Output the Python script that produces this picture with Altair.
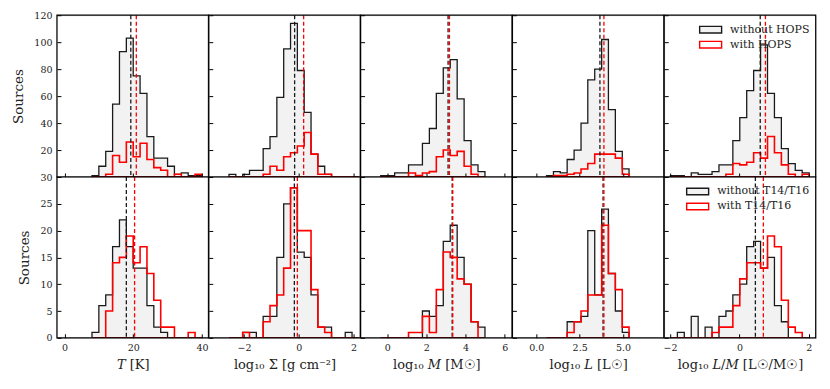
import altair as alt
import pandas as pd

# ---------------- data ----------------
T_edges = [8, 10, 12, 14, 16, 18, 20, 22, 24, 26, 28, 30, 32, 34, 36, 38, 40]
T_top_without = [1, 8, 19, 54, 93, 103, 75, 62, 30, 14, 14, 8, 2, 3, 1, 1]
T_top_with = [0, 0, 2, 16, 11, 26, 15, 25, 13, 7, 5, 0, 2, 0, 0, 2]
T_bot_without = [1, 6, 8, 17, 22, 17, 13, 13, 6, 2, 1, 0, 0, 0, 0, 0]
T_bot_with = [0, 0, 5, 14, 15, 19, 14, 17, 12, 7, 2, 2, 0, 0, 1, 0]
T_medians = [[19.3, 20.9], [18.0, 20.4]]

S_edges = [-2.55, -2.30, -2.05, -1.80, -1.55, -1.30, -1.05, -0.80, -0.55, -0.30,
           -0.05, 0.20, 0.45, 0.70, 0.95, 1.20, 1.45, 1.70, 1.95, 2.20]
S_top_without = [2, 0, 2, 5, 5, 21, 30, 59, 95, 114, 79, 48, 17, 8, 2, 0, 0, 0, 0]
S_top_with = [0, 0, 0, 0, 0, 2, 8, 5, 15, 18, 23, 33, 17, 2, 2, 0, 0, 0, 0]
S_bot_without = [0, 0, 1, 1, 0, 4, 4, 15, 25, 28, 16, 15, 8, 2, 2, 0, 0, 1, 0]
S_bot_with = [0, 0, 1, 0, 0, 3, 6, 8, 13, 28, 20, 20, 9, 2, 1, 0, 0, 0, 0]
S_medians = [[-0.15, 0.18], [-0.16, -0.05]]

M_edges = [-0.33, 0.025, 0.38, 0.735, 1.09, 1.445, 1.80, 2.155, 2.51, 2.865,
           3.22, 3.575, 3.93, 4.285, 4.64, 4.995]
M_top_without = [1, 1, 3, 3, 9, 9, 25, 36, 62, 81, 87, 58, 27, 9, 4]
M_top_with = [0, 0, 0, 0, 3, 1, 3, 4, 15, 20, 16, 19, 8, 2, 0]
M_bot_without = [0, 0, 0, 0, 0, 0, 5, 4, 6, 18, 21, 15, 10, 3, 2]
M_bot_with = [0, 0, 0, 0, 1, 1, 4, 1, 9, 16, 15, 11, 10, 3, 0]
M_medians = [[3.11, 3.18], [3.32, 3.35]]

L_edges = [0.59, 0.99, 1.38, 1.78, 2.18, 2.58, 2.97, 3.37, 3.77, 4.16, 4.56, 4.96, 5.35]
L_top_without = [1, 4, 3, 13, 20, 40, 72, 80, 102, 50, 19, 6]
L_top_with = [0, 1, 1, 2, 3, 6, 10, 17, 17, 17, 14, 2]
L_bot_without = [0, 0, 0, 3, 3, 4, 20, 8, 24, 12, 5, 1]
L_bot_with = [0, 0, 0, 1, 3, 5, 8, 8, 21, 12, 9, 2]
L_medians = [[3.67, 3.90], [3.85, 3.90]]

LM_edges = [-1.99, -1.79, -1.59, -1.39, -1.19, -0.99, -0.79, -0.59, -0.39, -0.19,
            0.01, 0.21, 0.41, 0.61, 0.81, 1.01, 1.21, 1.41, 1.61, 1.81, 2.01]
LM_top_without = [1, 1, 0, 3, 2, 2, 4, 9, 9, 27, 44, 64, 79, 98, 62, 44, 21, 10, 5, 3]
LM_top_with = [0, 0, 0, 0, 0, 0, 0, 0, 2, 10, 9, 11, 18, 14, 30, 18, 9, 2, 0, 2]
LM_bot_without = [0, 1, 0, 4, 0, 2, 0, 4, 5, 8, 10, 17, 18, 13, 15, 6, 3, 0, 0, 0]
LM_bot_with = [0, 0, 0, 0, 0, 0, 1, 2, 2, 6, 11, 14, 14, 13, 19, 17, 7, 2, 1, 0]
LM_medians = [[0.60, 0.75], [0.46, 0.69]]

x_titles = ["𝑇 [K]", "log₁₀ Σ [g cm⁻²]", "log₁₀ 𝑀 [M☉]", "log₁₀ 𝐿 [L☉]", "log₁₀ 𝐿/𝑀 [L☉/M☉]"]
x_domains = [[-2.2, 41.9], [-3.29, 2.25], [-1.36, 6.38], [-1.38, 7.36], [-2.17, 2.2]]
x_ticks = [[0, 20, 40], [-2, 0, 2], [0, 2, 4, 6], [0, 2.5, 5], [-2, 0, 2]]
x_formats = ["d", "d", "d", ".1f", "d"]
y_max = [120, 30]
y_ticks = [[20, 40, 60, 80, 100, 120], [0, 5, 10, 15, 20, 25, 30]]
legend_names = [["without HOPS", "with HOPS"], ["without T14/T16", "with T14/T16"]]

columns = [
    (T_edges, [T_top_without, T_bot_without], [T_top_with, T_bot_with], T_medians),
    (S_edges, [S_top_without, S_bot_without], [S_top_with, S_bot_with], S_medians),
    (M_edges, [M_top_without, M_bot_without], [M_top_with, M_bot_with], M_medians),
    (L_edges, [L_top_without, L_bot_without], [L_top_with, L_bot_with], L_medians),
    (LM_edges, [LM_top_without, LM_bot_without], [LM_top_with, LM_bot_with], LM_medians),
]

# ---------------- style ----------------
FONT = "DejaVu Serif"
W = 151.7
H = [162, 161]
BLACK = "#1a1a1a"
RED = "#ff0000"
GRAY = "#f2f2f2"


def hist_frame(edges, counts, name):
    rows = [{"x": edges[i], "y": counts[i], "series": name} for i in range(len(counts))]
    rows.append({"x": edges[len(counts)], "y": 0, "series": name})
    return pd.DataFrame(rows)


def panel(c, r):
    edges, withouts, withs, meds = columns[c]
    names = legend_names[r]
    bottom = r == 1
    xaxis = alt.Axis(values=x_ticks[c], labels=bottom, title=x_titles[c] if bottom else None,
                     format=x_formats[c], tickSize=4, offset=-4, domain=False, grid=False,
                     tickColor="black", tickWidth=1, labelFont=FONT, labelFontSize=9.5,
                     labelColor="#222", labelPadding=5, titleFont=FONT, titleFontSize=13,
                     titleFontWeight="normal", titleColor="#222", titlePadding=6, zindex=1)
    yaxis = alt.Axis(values=y_ticks[r], labels=(c == 0), title="Sources" if c == 0 else None,
                     tickSize=4, offset=-4, domain=False, grid=False, tickColor="black",
                     tickWidth=1, labelFont=FONT, labelFontSize=9.5, labelColor="#222",
                     labelPadding=5, titleFont=FONT, titleFontSize=13.5, titleFontWeight="normal",
                     titleColor="#222", titlePadding=8, zindex=1)
    X = alt.X("x:Q", scale=alt.Scale(domain=x_domains[c], nice=False, zero=False), axis=xaxis)
    Y = alt.Y("y:Q", scale=alt.Scale(domain=[0, y_max[r]], nice=False, zero=True), axis=yaxis)
    if c == 4:
        leg = alt.Legend(title=None, orient="top-right", offset=6, padding=0,
                         labelFont=FONT, labelFontSize=11, labelColor="#222",
                         symbolType="M-1.5,-0.45H1.5V0.45H-1.5Z", symbolSize=215,
                         symbolStrokeWidth=1.4, labelOffset=11, rowPadding=0)
    else:
        leg = None
    F = alt.Fill("series:N", scale=alt.Scale(domain=names, range=[GRAY, "transparent"]), legend=leg)
    S = alt.Stroke("series:N", scale=alt.Scale(domain=names, range=[BLACK, RED]), legend=leg)

    black = alt.Chart(hist_frame(edges, withouts[r], names[0])).mark_area(
        interpolate="step-after", strokeWidth=1.3, clip=True).encode(x=X, y=Y, fill=F, stroke=S)
    red = alt.Chart(hist_frame(edges, withs[r], names[1])).mark_area(
        interpolate="step-after", strokeWidth=1.6, clip=True).encode(x=X, y=Y, fill=F, stroke=S)
    med_b = alt.Chart(pd.DataFrame({"x": [meds[r][0]]})).mark_rule(
        color=BLACK, strokeDash=[4, 2.5], strokeWidth=1.3).encode(x=X)
    med_r = alt.Chart(pd.DataFrame({"x": [meds[r][1]]})).mark_rule(
        color=RED, strokeDash=[4, 2.5], strokeWidth=1.3).encode(x=X)
    frame = alt.Chart(pd.DataFrame({"a": [0]})).mark_rect(
        fill="transparent", stroke="black", strokeWidth=1.2).encode(
        x=alt.value(0), x2=alt.value(W), y=alt.value(0), y2=alt.value(H[r]))
    return alt.layer(black, red, med_b, med_r, frame).properties(width=W, height=H[r])


panels = [panel(c, r) for r in range(2) for c in range(5)]
chart = alt.concat(*panels, columns=5, spacing=0, bounds="flush").resolve_scale(
    x="independent", y="independent", fill="independent", stroke="independent"
).resolve_legend(fill="independent", stroke="independent").properties(
    padding={"left": 3, "top": 1, "right": 5, "bottom": 5}
).configure_view(stroke=None).configure(background="white")

chart.save("out.html", embed_options={"renderer": "svg", "actions": False})
